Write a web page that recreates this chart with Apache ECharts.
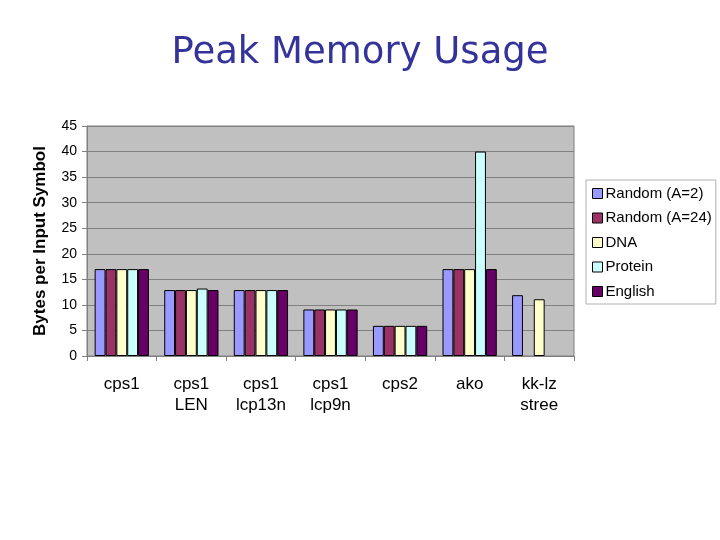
<!DOCTYPE html>
<html>
<head>
<meta charset="utf-8">
<script src="https://cdn.jsdelivr.net/npm/echarts@6/dist/echarts.min.js"></script>
<style>
  html, body { margin: 0; padding: 0; background: #fff; }
  #main { width: 720px; height: 540px; }
</style>
</head>
<body>
<div id="main"></div>
<script>
// 类目与数据
const categories = ['cps1', 'cps1\nLEN', 'cps1\nlcp13n', 'cps1\nlcp9n', 'cps2', 'ako', 'kk-lz\nstree']
const seriesNames = ['Random (A=2)', 'Random (A=24)', 'DNA', 'Protein', 'English']
const random2 = [17, 12.9, 12.9, 9.1, 5.9, 17, 11.9]
const random24 = [17, 12.9, 12.9, 9.1, 5.9, 17, null]
const dna = [17, 12.9, 12.9, 9.1, 5.9, 17, 11.1]
const protein = [17, 13.2, 12.9, 9.1, 5.9, 40, null]
const english = [17, 12.9, 12.9, 9.1, 5.9, 17, null]
const colors = ['#9999ff', '#993366', '#ffffcc', '#ccffff', '#660066']

const seriesData = [random2, random24, dna, protein, english]

const chart = echarts.init(document.getElementById('main'))

chart.setOption({
  animation: false,
  title: {
    text: 'Peak Memory Usage',
    left: 'center',
    top: 30,
    textStyle: {
      fontFamily: 'DejaVu Sans',
      fontWeight: 'normal',
      fontSize: 37,
      color: '#333399'
    }
  },
  legend: {
    orient: 'vertical',
    left: 586,
    top: 180,
    width: 129,
    padding: [6, 4, 5, 6],
    itemWidth: 10,
    itemHeight: 10,
    itemGap: 9.5,
    borderColor: '#b0b0b0',
    borderWidth: 1,
    icon: 'rect',
    data: seriesNames,
    textStyle: {
      fontFamily: 'Liberation Sans',
      fontSize: 15,
      color: '#000',
      padding: [0, 0, 0, -2]
    },
    itemStyle: { borderColor: '#000', borderWidth: 1 }
  },
  grid: {
    left: 87,
    top: 126,
    width: 487,
    height: 230,
    show: true,
    backgroundColor: '#c0c0c0',
    borderColor: '#808080',
    borderWidth: 1
  },
  xAxis: {
    type: 'category',
    data: categories,
    axisLine: { lineStyle: { color: '#808080' } },
    axisTick: { show: true, length: 5, lineStyle: { color: '#808080' } },
    axisLabel: {
      margin: 18,
      fontFamily: 'Liberation Sans',
      fontSize: 17,
      color: '#000',
      lineHeight: 21
    }
  },
  yAxis: {
    type: 'value',
    min: 0,
    max: 45,
    interval: 5,
    name: 'Bytes per Input Symbol',
    nameLocation: 'middle',
    nameGap: 38,
    nameTextStyle: {
      fontFamily: 'Liberation Sans',
      fontWeight: 'bold',
      fontSize: 17,
      color: '#000'
    },
    axisLine: { show: true, lineStyle: { color: '#808080' } },
    axisTick: { show: true, length: 5, lineStyle: { color: '#808080' } },
    axisLabel: {
      margin: 10,
      fontFamily: 'Liberation Sans',
      fontSize: 14,
      color: '#000'
    },
    splitLine: { lineStyle: { color: '#808080', width: 1 } }
  },
  series: seriesNames.map((name, i) => ({
    name: name,
    type: 'bar',
    data: seriesData[i],
    barGap: '0%',
    barCategoryGap: '22%',
    itemStyle: {
      color: colors[i],
      borderColor: '#000',
      borderWidth: 1
    }
  }))
})
</script>
</body>
</html>
